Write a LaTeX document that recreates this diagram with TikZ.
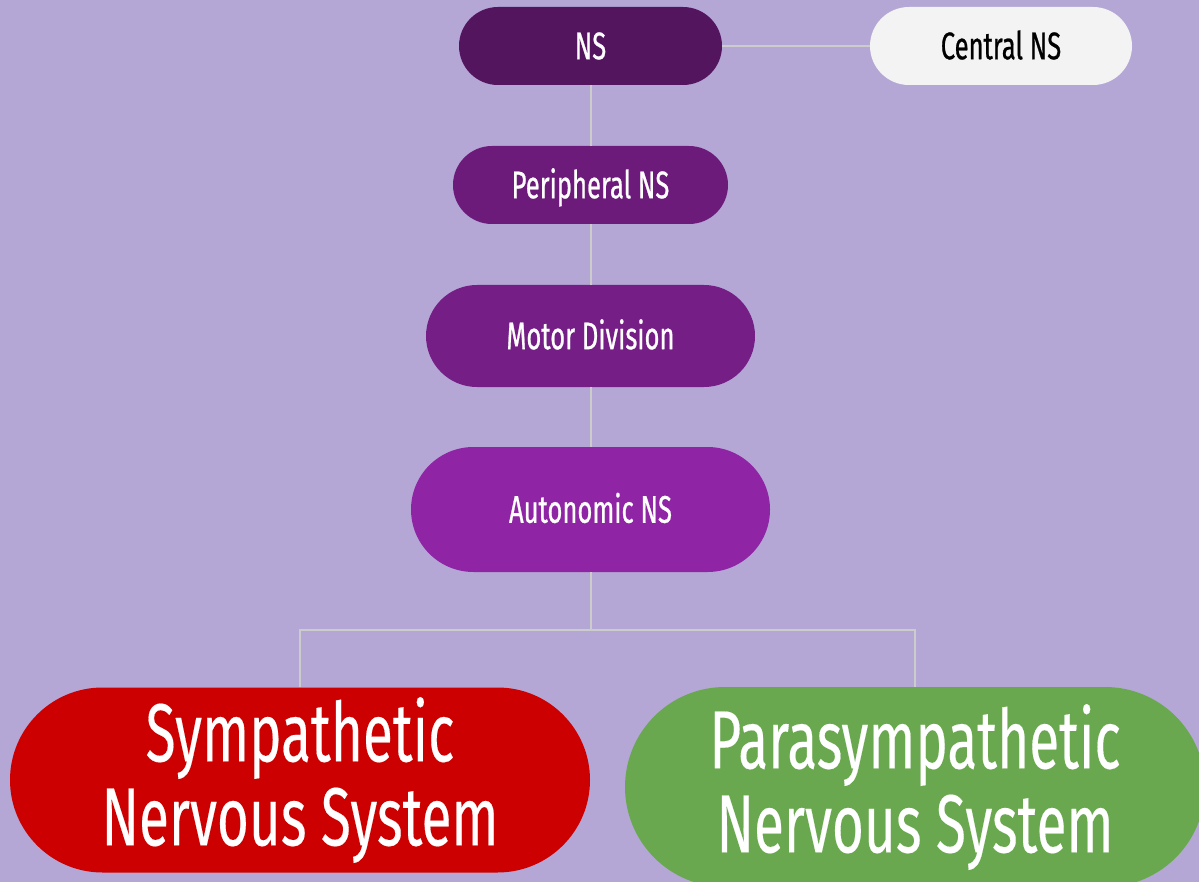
\documentclass[tikz,border=0pt]{standalone}
\usepackage{fontspec}
\setmainfont{Fira Sans}[FakeStretch=0.665,FakeBold=0.6]
\newfontfamily\bigface{Fira Sans}[FakeStretch=0.665,FakeBold=0.2]
\definecolor{bg}{HTML}{B4A7D6}
\definecolor{cns}{HTML}{54155F}
\definecolor{ccent}{HTML}{F3F3F3}
\definecolor{cper}{HTML}{6D1B7B}
\definecolor{cmot}{HTML}{741E86}
\definecolor{caut}{HTML}{8F24A5}
\definecolor{csym}{HTML}{CC0000}
\definecolor{cpar}{HTML}{6AA84F}
\definecolor{cline}{HTML}{CCCCCC}
\newcommand\smallfnt{\fontsize{38.5}{40}\selectfont}
\newcommand\bigfnt{\bigface\fontsize{82.5}{84}\selectfont}
\begin{document}
\begin{tikzpicture}[x=1pt,y=-1pt,
  pill/.style={rectangle, inner sep=0pt, text=white, align=center},
  smalltxt/.style={font=\smallfnt, text height=26.5pt, text depth=0pt},
  bigtxt/.style={font=\bigfnt},
  conn/.style={draw=cline, line width=2pt}]
\clip (0,0) rectangle (1199,882);
\fill[bg] (0,0) rectangle (1199,882);
\node[pill, smalltxt, fill=cns, minimum width=263pt, minimum height=78pt, rounded corners=39pt] (ns) at (590.5,46) {NS};
\node[pill, smalltxt, fill=ccent, text=black, minimum width=262pt, minimum height=78pt, rounded corners=39pt] (cent) at (1001,46) {Central NS};
\node[pill, smalltxt, fill=cper, minimum width=275pt, minimum height=78pt, rounded corners=39pt] (per) at (590.5,185) {Peripheral NS};
\node[pill, smalltxt, fill=cmot, minimum width=329pt, minimum height=102pt, rounded corners=51pt] (mot) at (590.5,336) {Motor Division};
\node[pill, smalltxt, fill=caut, minimum width=359pt, minimum height=125pt, rounded corners=62.5pt] (aut) at (590.5,509.5) {Autonomic NS};
\node[pill, bigtxt, fill=csym, minimum width=580pt, minimum height=185pt, rounded corners=92.5pt] (sym) at (300,780) {Sympathetic\\Nervous System};
\node[pill, bigtxt, fill=cpar, minimum width=580pt, minimum height=200pt, rounded corners=100pt] (par) at (915,787) {Parasympathetic\\Nervous System};
\draw[conn] (ns.east) -- (cent.west);
\draw[conn] (ns.south) -- (per.north);
\draw[conn] (per.south) -- (mot.north);
\draw[conn] (mot.south) -- (aut.north);
\coordinate (split) at (590.5,630);
\draw[conn] (aut.south) -- (split);
\draw[conn] (split) -| (sym.north);
\draw[conn] (split) -| (par.north);
\end{tikzpicture}
\end{document}
